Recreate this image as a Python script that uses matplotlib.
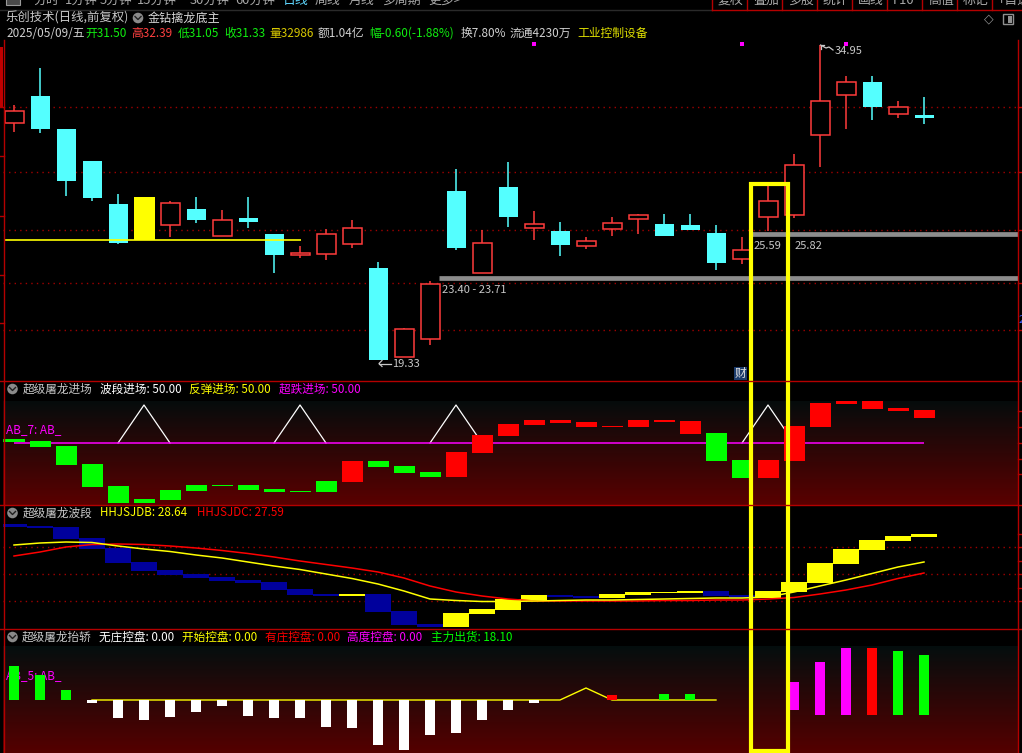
import matplotlib
matplotlib.use('Agg')
import matplotlib.pyplot as plt
import numpy as np
from matplotlib.patches import Rectangle, Circle

plt.rcParams['font.family'] = ['Noto Sans CJK SC', 'DejaVu Sans']

# ---------------- data ----------------
opens = [31.08, 32.42, 30.78, 29.20, 27.06, 27.41, 26.02, 26.82, 25.48, 26.37, 25.58, 24.54,
         24.59, 25.08, 23.89, 19.48, 20.37, 27.71, 23.64, 27.91, 25.87, 25.73, 24.98, 25.82,
         26.32, 26.07, 26.02, 25.63, 24.34, 26.42, 26.52, 30.49, 32.47, 33.11, 31.53, 31.50]
highs = [31.97, 33.81, 30.78, 29.20, 27.56, 27.41, 27.21, 27.41, 26.77, 27.41, 25.58, 24.98,
         25.82, 26.27, 24.19, 20.92, 23.25, 28.80, 25.78, 29.15, 26.72, 26.17, 25.43, 26.42,
         26.57, 26.57, 26.57, 26.02, 25.43, 27.96, 29.54, 34.95, 33.41, 33.41, 32.17, 32.39]
lows = [30.63, 30.58, 27.46, 27.21, 25.08, 25.28, 25.43, 26.12, 25.48, 25.87, 23.64, 24.39,
        24.29, 24.88, 19.33, 19.48, 20.07, 24.78, 23.64, 25.92, 25.28, 24.49, 24.83, 25.48,
        25.58, 25.48, 25.78, 23.79, 24.09, 25.73, 26.37, 28.90, 30.78, 31.23, 31.33, 31.05]
closes = [31.68, 30.78, 28.20, 27.36, 25.13, 25.28, 27.11, 26.27, 26.27, 26.17, 24.54, 24.64,
          25.58, 25.87, 19.33, 20.87, 23.10, 24.88, 25.13, 26.42, 26.07, 25.03, 25.23, 26.12,
          26.52, 25.48, 25.78, 24.14, 24.78, 27.21, 29.00, 32.17, 33.11, 31.87, 31.87, 31.33]
highlight_idx = 5
grid_levels = [31.86, 28.64, 25.76, 23.13, 20.80]
support_level = 25.28
support_span = (0, 11)
zone_levels = [23.40, 25.59]
zone_starts = [16, 28]
zone_labels = ['23.40 - 23.71', '25.59', '25.82']
marker_idx = [20, 28, 32]
high_label, low_label = '34.95', '19.33'

# indicator 1: 超级屠龙进场
ind1_top = [66, 64, 59, 41, 19, 6, 15, 20, 20, 20, 16, 14, 24, 44, 44, 39, 33, 53,
            70, 81, 85, 85, 83, 79, 85, 85, 84, 72, 45, 45, 79, 102, 104, 104, 97, 95]
ind1_bot = [63, 58, 40, 18, 2, 2, 5, 14, 19, 15, 13, 13, 13, 23, 38, 32, 28, 28,
            52, 69, 80, 82, 78, 78, 78, 83, 71, 44, 27, 27, 44, 78, 101, 96, 94, 87]
ind1_up = [0, 0, 0, 0, 0, 0, 0, 0, 0, 0, 0, 0, 0, 1, 0, 0, 0, 1,
           1, 1, 1, 1, 1, 1, 1, 1, 1, 0, 0, 1, 1, 1, 1, 1, 1, 1]
ind1_base = 62
ind1_apex = 100
signal_idx = [5, 11, 17, 29]

# indicator 2: 超级屠龙波段
ind2_hi = [104, 102, 101, 90, 80, 66, 58, 54, 51, 48, 46, 39, 34, 34, 34, 17, 4, 15,
           19, 29, 33, 33, 32, 34, 36, 36, 37, 37, 33, 37, 46, 65, 79, 88, 92, 94]
ind2_lo = [101, 100, 89, 79, 65, 57, 53, 50, 47, 45, 38, 33, 32, 32, 16, 3, 1, 1,
           14, 18, 28, 31, 30, 30, 33, 35, 35, 32, 30, 30, 36, 45, 64, 78, 87, 91]
ind2_yellow = [0, 0, 0, 0, 0, 0, 0, 0, 0, 0, 0, 0, 0, 1, 0, 0, 0, 1,
               1, 1, 1, 0, 0, 1, 1, 1, 1, 0, 0, 1, 1, 1, 1, 1, 1, 1]
hhjsjdb = [83, 85, 86, 85.5, 82, 79, 76.5, 73, 70, 66, 62, 58.5, 54, 49.5, 44, 37, 29, 27.5,
           26.5, 26.5, 27, 27.5, 28, 28, 28.5, 29, 29.5, 30, 30, 31, 36, 42, 48, 54.5, 61, 66]
hhjsjdc = [72, 76, 81, 83.5, 84, 83.5, 82, 80, 77.5, 74.5, 71, 67, 63.5, 60, 56, 50, 42, 36,
           32, 29, 27, 27, 27, 27, 27, 27.5, 27.5, 28, 28, 29, 30.5, 34, 38, 43, 49.5, 55]
ind2_grid = [81, 54, 27]

# indicator 3: 超级屠龙抬轿
ind3_top = [87, 78, 63, 53, 53, 53, 53, 53, 53, 53, 53, 53, 53, 53, 53, 53, 53, 53,
            53, 53, 53, 53, 53, 58, 53, 59, 59, 53, 53, 53, 71, 91, 105, 105, 102, 98]
ind3_bot = [53, 53, 53, 50, 35, 33, 36, 41, 47, 37, 35, 35, 26, 25, 8, 3, 18, 20,
            33, 43, 50, 53, 53, 53, 53, 53, 53, 53, 53, 53, 43, 38, 38, 38, 38, 38]
ind3_color = ['g', 'g', 'g', 'w', 'w', 'w', 'w', 'w', 'w', 'w', 'w', 'w', 'w', 'w', 'w', 'w', 'w', 'w',
              'w', 'w', 'w', '', '', 'r', '', 'g', 'g', '', '', '', 'm', 'm', 'm', 'r', 'g', 'g']
ind3_line = [np.nan, np.nan, np.nan, 53, 53, 53, 53, 53, 53, 53, 53, 53, 53, 53, 53, 53, 53, 53,
             53, 53, 53, 53, 65, 53, 53, 53, 53, 53, np.nan, 65, np.nan, np.nan, np.nan, np.nan, np.nan, np.nan]

# ---------------- layout ----------------
W, H = 1022, 753
fig = plt.figure(figsize=(W / 100, H / 100), dpi=100, facecolor='black')

X0, X1 = 3, 1018
XLIM = ((X0 - 14) / 26, (X1 - 14) / 26)
n = len(opens)
idx = np.arange(n)

RED = '#ff3c3c'
CYAN = '#54ffff'
GRID = '#a00000'
DOT = (0, (1, 3))


def px_axes(x0, y0, x1, y1):
    ax = fig.add_axes([x0 / W, 1 - y1 / H, (x1 - x0) / W, (y1 - y0) / H])
    ax.set_facecolor('black')
    ax.set_axis_off()
    return ax


def gradient(ax, v0, v1, top, bot):
    t = np.linspace(0, 1, 256)[:, None, None]
    top = np.array(top)[None, None, :] / 255
    bot = np.array(bot)[None, None, :] / 255
    arr = top * (1 - t) + bot * t
    ax.imshow(arr, extent=[XLIM[0], XLIM[1], v0, v1], aspect='auto', origin='upper',
              zorder=0, interpolation='bilinear')


# ----- main candlestick panel -----
ax = px_axes(X0, 40, X1, 380)
ax.set_xlim(*XLIM)
ax.set_ylim(18.338, 35.195)
for g in grid_levels:
    ax.axhline(g, color=GRID, lw=1, ls=DOT, zorder=1)
bw = 19 / 26
for i in idx:
    o, h, l, c = opens[i], highs[i], lows[i], closes[i]
    lo_b, hi_b = min(o, c), max(o, c)
    hb = max(hi_b - lo_b, 0.06)
    if i == highlight_idx:
        ax.add_patch(Rectangle((i - 21 / 52, lo_b), 21 / 26, hb, facecolor='#ffff00',
                               edgecolor='none', zorder=3))
    elif c >= o:
        ax.vlines(i, hi_b, h, color=RED, lw=1.1, zorder=2)
        ax.vlines(i, l, lo_b, color=RED, lw=1.1, zorder=2)
        ax.add_patch(Rectangle((i - bw / 2, lo_b), bw, hb, facecolor='black',
                               edgecolor=RED, lw=1.1, zorder=3))
    else:
        ax.vlines(i, l, h, color=CYAN, lw=1.1, zorder=2)
        ax.add_patch(Rectangle((i - bw / 2, lo_b), bw, hb, facecolor=CYAN,
                               edgecolor='none', zorder=3))
ax.hlines(support_level, support_span[0] - 0.35, support_span[1] + 0.04, color='#ffff00', lw=1.2, zorder=4)
for lvl, s in zip(zone_levels, zone_starts):
    ax.hlines(lvl, s + 0.35, XLIM[1], color='#8c8c8c', lw=3.4, zorder=4)
ax.scatter(marker_idx, [35.0] * len(marker_idx), marker='s', s=5, color='#ff00ff', zorder=5, linewidths=0)

# ----- indicator 1 -----
a1 = px_axes(X0, 381, X1, 505)
gradient(a1, 0, 104, (5, 12, 12), (90, 0, 0))
a1.set_xlim(*XLIM)
a1.set_ylim(0, 124)
for i in idx:
    hgt = max(ind1_top[i] - ind1_bot[i], 1)
    a1.add_patch(Rectangle((i - 21 / 52, ind1_bot[i]), 21 / 26, hgt,
                           facecolor='#ff0000' if ind1_up[i] else '#00ff00', edgecolor='none', zorder=3))
for s in signal_idx:
    a1.plot([s - 1, s, s + 1], [ind1_base, ind1_apex, ind1_base], color='white', lw=0.9, zorder=2)
a1.hlines(ind1_base, 0, n - 1, color='#ff00ff', lw=1.1, zorder=2.5)
a1.text(-0.31, 75, 'AB_7: AB_', color='#ff00ff', fontsize=8.5, va='center', ha='left', zorder=1)

# ----- indicator 2 -----
a2 = px_axes(X0, 505, X1, 628)
a2.set_xlim(*XLIM)
a2.set_ylim(0, 123)
for g in ind2_grid:
    a2.axhline(g, color=GRID, lw=1, ls=DOT, zorder=1)
for i in idx:
    a2.add_patch(Rectangle((i - 0.5, ind2_lo[i]), 1.0, max(ind2_hi[i] - ind2_lo[i], 1),
                           facecolor='#ffff00' if ind2_yellow[i] else '#00009c', edgecolor='none', zorder=2))
a2.plot(idx, hhjsjdc, color='#ff0000', lw=1.1, zorder=3)
a2.plot(idx, hhjsjdb, color='#ffff00', lw=1.1, zorder=4)

# ----- indicator 3 -----
a3 = px_axes(X0, 628, X1, 753)
gradient(a3, 0, 107, (4, 14, 14), (85, 0, 0))
a3.set_xlim(*XLIM)
a3.set_ylim(0, 125)
cmap3 = {'g': '#00ff00', 'w': '#ffffff', 'r': '#ff0000', 'm': '#ff00ff'}
for i in idx:
    if ind3_color[i]:
        a3.add_patch(Rectangle((i - 5 / 26, ind3_bot[i]), 10 / 26, max(ind3_top[i] - ind3_bot[i], 1),
                               facecolor=cmap3[ind3_color[i]], edgecolor='none', zorder=3))
a3.plot(idx, ind3_line, color='#ffff00', lw=1.0, zorder=2)
a3.text(-0.31, 77, 'AB_5: AB_', color='#ff00ff', fontsize=8.5, va='center', ha='left', zorder=1)

# ----- overlay (frame, texts) -----
ov = fig.add_axes([0, 0, 1, 1])
ov.set_xlim(0, W)
ov.set_ylim(H, 0)
ov.axis('off')
ov.patch.set_alpha(0)
ov.set_zorder(20)
BR = '#b40000'


def T(x, y, s, c, size=9, **kw):
    ov.text(x, y, s, color=c, fontsize=size, va='center', ha=kw.pop('ha', 'left'), **kw)


# menu row (cut off at the top edge, as in the screenshot)
ov.add_patch(Rectangle((6, -6), 14, 11, facecolor='#4a4a4a', edgecolor='#9a9a9a', lw=0.8))
menu = [(33, '分时'), (65, '1分钟'), (100, '5分钟'), (137, '15分钟'), (190, '30分钟'), (235, '60分钟'),
        (283, '日线'), (315, '周线'), (349, '月线'), (382, '多周期'), (428, '更多>')]
for x, s in menu:
    T(x, 0.5, s, '#5fd7ff' if s == '日线' else '#a8a8a8', 9.3)
ov.plot([0, 712], [9.5, 9.5], color='#2a2a2a', lw=1)
ov.plot([712, 1022], [9.5, 9.5], color=BR, lw=1)
rmenu = ['复权', '叠加', '多股', '统计', '画线', 'F10', '高值', '标记', '+自选']
seps = [712, 747, 782, 817, 852, 887, 922, 957, 992]
for x, s in zip(seps, rmenu):
    ov.plot([x, x], [0, 9.5], color=BR, lw=1)
    T(x + 6, 0.5, s, '#a8a8a8', 9.3)

# title + info rows
T(6, 18, '乐创技术(日线,前复权)', '#c8c8c8', 8.9)
ov.add_patch(Circle((138, 18), 5.3, facecolor='#8a8a8a', edgecolor='none'))
ov.plot([135, 138, 141], [16.5, 19.5, 16.5], color='#202020', lw=1)
T(148, 18, '金钻擒龙底主', '#d8d8d8', 8.7)
ov.text(989, 19, '◇', color='#909090', fontsize=9, va='center', ha='center', family='DejaVu Sans')
ov.add_patch(Rectangle((1003, 14), 10, 10, facecolor='none', edgecolor='#909090', lw=1))
ov.add_patch(Rectangle((1008, 15.5), 3.5, 7, facecolor='#909090', edgecolor='none'))
info = [(6, '2025/05/09/五', '#d0d0d0'), (85, '开31.50', '#10ee10'), (131, '高32.39', '#ff4040'),
        (178, '低31.05', '#10ee10'), (224, '收31.33', '#10ee10'), (269, '量32986', '#d8c800'),
        (318, '额1.04亿', '#d0d0d0'), (369, '幅-0.60(-1.88%)', '#10ee10'), (461, '换7.80%', '#d0d0d0'),
        (510, '流通4230万', '#d0d0d0'), (577, '工业控制设备', '#e0e000')]
for x, s, c in info:
    T(x, 33, s, c, 8.5)

# frame lines
for y in (380.5, 504.5, 628.5):
    ov.plot([0, 1022], [y, y], color=BR, lw=1)
ov.plot([3.5, 3.5], [40, 753], color=BR, lw=1)
ov.plot([1017.5, 1017.5], [40, 753], color=BR, lw=1)
ov.add_patch(Rectangle((0, 47), 3, 60, facecolor='#c00000', edgecolor='none'))
for y in (107, 156, 216, 275, 323):
    ov.plot([0, 3.5], [y, y], color=BR, lw=1)
for y in (107, 172, 230, 283, 330, 411, 427, 443, 459, 474, 534, 547, 561, 574, 588, 601):
    ov.plot([1017.5, 1022], [y, y], color=BR, lw=1)
T(1019, 320, '2', '#4060ff', 8)

# main-chart labels
T(442, 290, zone_labels[0], '#c8c8c8', 8)
T(754, 246, zone_labels[1], '#c8c8c8', 8)
T(795, 246, zone_labels[2], '#c8c8c8', 8)
ov.plot([379, 391], [363.5, 363.5], color='#c8c8c8', lw=0.9)
ov.plot([382, 379, 382], [360.5, 363.5, 366.5], color='#c8c8c8', lw=0.9)
T(392, 364, low_label, '#c8c8c8', 8)
ov.plot([820.5, 826, 829, 833], [45, 48, 47, 50], color='#c8c8c8', lw=0.9)
ov.plot([820.5, 820.5, 824], [49, 45, 45], color='#c8c8c8', lw=0.9)
T(835, 51, high_label, '#c8c8c8', 8)
ov.add_patch(Rectangle((734, 367), 13, 13, facecolor='#1c3c6c', edgecolor='none'))
T(740.5, 373.5, '财', '#e0e0e0', 8.5, ha='center')

# indicator headers
for yc in (389, 513, 637):
    ov.add_patch(Circle((12.5, yc), 5.3, facecolor='#8a8a8a', edgecolor='none'))
    ov.plot([9.5, 12.5, 15.5], [yc - 1.5, yc + 1.5, yc - 1.5], color='#202020', lw=1)
HS = 8.4
T(23, 389, '超级屠龙进场', '#c8c8c8', HS)
T(100, 389, '波段进场: 50.00', '#ffffff', HS)
T(189, 389, '反弹进场: 50.00', '#ffff00', HS)
T(279, 389, '超跌进场: 50.00', '#ff00ff', HS)
T(23, 513, '超级屠龙波段', '#c8c8c8', HS)
T(100, 513, 'HHJSJDB: 28.64', '#ffff00', HS)
T(197, 513, 'HHJSJDC: 27.59', '#ff0000', HS)
T(22, 637, '超级屠龙抬轿', '#c8c8c8', HS)
T(99, 637, '无庄控盘: 0.00', '#ffffff', HS)
T(182, 637, '开始控盘: 0.00', '#ffff00', HS)
T(265, 637, '有庄控盘: 0.00', '#ff0000', HS)
T(347, 637, '高度控盘: 0.00', '#ff00ff', HS)
T(431, 637, '主力出货: 18.10', '#00ff00', HS)

# highlight box
ov.add_patch(Rectangle((751, 184), 37, 567, facecolor='none', edgecolor='#ffff00', lw=3.0))

fig.savefig('out.png', dpi=100, facecolor='black')
